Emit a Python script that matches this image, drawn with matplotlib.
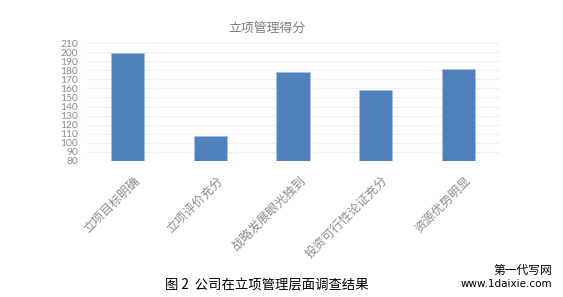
import matplotlib
matplotlib.use("Agg")
import matplotlib.pyplot as plt
from matplotlib.transforms import ScaledTranslation

plt.rcParams['font.family'] = ['Noto Sans CJK SC', 'DejaVu Sans']

categories = ["立项目标明确", "立项评价充分", "战略发展眼光独到", "投资可行性论证充分", "资源优势明显"]
scores = [199, 107, 178, 158, 182]
y_ticks = list(range(80, 211, 10))

W, H = 563, 297
fig = plt.figure(figsize=(W / 100, H / 100), dpi=100)
left, right, top, bottom = 86.7, 499.3, 43.3, 160.7
ax = fig.add_axes([left / W, 1 - bottom / H, (right - left) / W, (bottom - top) / H])

x = range(len(categories))
ax.bar(x, scores, width=0.40, color="#4f81bd", edgecolor="#a9c0e0", linewidth=0.6,
       zorder=3)
ax.set_ylim(80, 210)
ax.set_xlim(-0.5, len(categories) - 0.5)
ax.set_yticks(y_ticks)
ax.set_yticklabels([str(v) for v in y_ticks], fontsize=7.4, color="#8c8c8c",
                   family=['Lato', 'DejaVu Sans'])
ax.tick_params(axis='y', length=0, pad=6)
ax.tick_params(axis='x', length=0, pad=4)
ax.set_xticks(list(x))
labels = ax.set_xticklabels(categories, rotation=45, ha='right', rotation_mode='anchor',
                            fontsize=8.8, color="#8c8c8c")
shift = ScaledTranslation(6 / 100, -8 / 100, fig.dpi_scale_trans)
for lab in labels:
    lab.set_transform(lab.get_transform() + shift)
ax.grid(axis='y', color="#f0f0f0", linewidth=0.8, zorder=0)
for s in ax.spines.values():
    s.set_visible(False)

fig.text(266.5 / W, 1 - 29.3 / H, "立项管理得分", ha='center', va='center',
         fontsize=9.3, color="#7f7f7f")
fig.text(267 / W, 1 - 285 / H, "图 2  公司在立项管理层面调查结果", ha='center', va='center',
         fontsize=9.6, color="#000000")
fig.text(552 / W, 1 - 270 / H, "第一代写网", ha='right', va='center',
         fontsize=8.5, color="#000000")
fig.text(552 / W, 1 - 284.3 / H, "www.1daixie.com", ha='right', va='center',
         fontsize=7.5, color="#000000", family=['DejaVu Sans'])

fig.savefig("out.png", dpi=100)
